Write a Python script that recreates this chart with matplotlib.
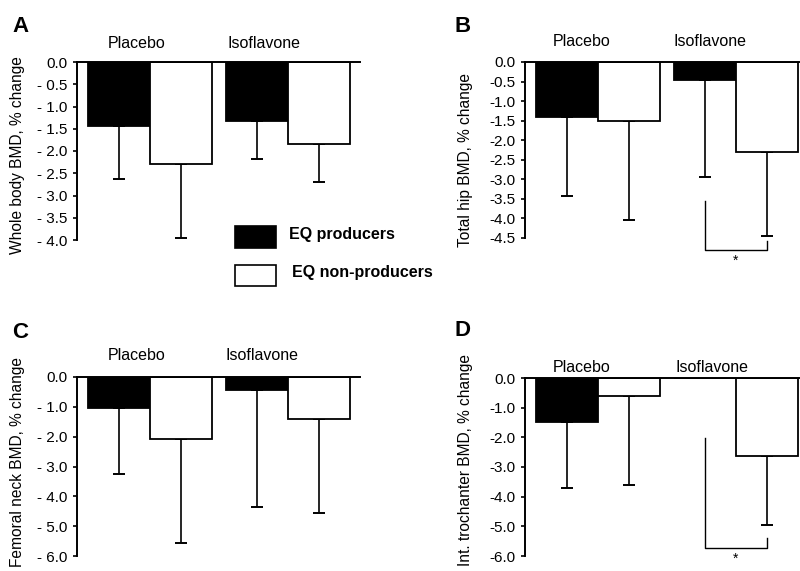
import numpy as np
import matplotlib.pyplot as plt
from matplotlib.patches import Rectangle

plt.rcParams['font.family'] = ['Liberation Sans', 'DejaVu Sans']

W, H = 800, 571

# ─── datos ────────────────────────────────────────────────────
grupos = ['Placebo', 'Isoflavone']
series = ['EQ producers', 'EQ non-producers']

# media (% cambio) y extremo inferior de la barra de error
A_prod = [-1.43, -1.32]
A_prod_err = [-2.62, -2.19]
A_nonp = [-2.30, -1.84]
A_nonp_err = [-3.96, -2.69]

B_prod = [-1.40, -0.45]
B_prod_err = [-3.43, -2.94]
B_nonp = [-1.50, -2.29]
B_nonp_err = [-4.03, -4.45]

C_prod = [-1.05, -0.43]
C_prod_err = [-3.25, -4.36]
C_nonp = [-2.08, -1.41]
C_nonp_err = [-5.55, -4.57]

D_prod = [-1.47, 0.0]
D_prod_err = [-3.72, np.nan]
D_nonp = [-0.60, -2.63]
D_nonp_err = [-3.60, -4.95]

# corchetes de significación: (y izq. arriba, y dcha. arriba, y base, y estrella)
B_sig = [-3.55, -4.58, -4.81, -4.90]
D_sig = [-2.03, -5.40, -5.74, -5.85]

paneles = [
    dict(letra='A', ylabel='Whole body BMD, % change',
         prod=A_prod, prod_err=A_prod_err, nonp=A_nonp, nonp_err=A_nonp_err,
         ticks=np.arange(0, -4.01, -0.5), fmt='- {:.1f}', ymin=-4.0,
         box=(77, 360, 62, 240), ylab=(18, 155), let=(12, 26), gy=43,
         gx=(137, 264), sig=None),
    dict(letra='B', ylabel='Total hip BMD, % change',
         prod=B_prod, prod_err=B_prod_err, nonp=B_nonp, nonp_err=B_nonp_err,
         ticks=np.arange(0, -4.51, -0.5), fmt='-{:.1f}', ymin=-4.5,
         box=(525, 799, 62, 238), ylab=(465, 160), let=(455, 27), gy=42,
         gx=(582, 710), sig=B_sig),
    dict(letra='C', ylabel='Femoral neck BMD, % change',
         prod=C_prod, prod_err=C_prod_err, nonp=C_nonp, nonp_err=C_nonp_err,
         ticks=np.arange(0, -6.01, -1.0), fmt='- {:.1f}', ymin=-6.0,
         box=(77, 360, 377, 556), ylab=(18, 462), let=(12, 332), gy=355,
         gx=(137, 262), sig=None),
    dict(letra='D', ylabel='Int. trochanter BMD, % change',
         prod=D_prod, prod_err=D_prod_err, nonp=D_nonp, nonp_err=D_nonp_err,
         ticks=np.arange(0, -6.01, -1.0), fmt='-{:.1f}', ymin=-6.0,
         box=(525, 799, 378, 556), ylab=(465, 460), let=(455, 330), gy=368,
         gx=(582, 712), sig=D_sig),
]

fig = plt.figure(figsize=(W / 100, H / 100), dpi=100)

bw = 1.0                      # ancho de barra (unidades de datos, 62 px)
pxu = 62.0
centros = np.array([1.17, 3.40])

for p in paneles:
    x0, x1, yt, yb = p['box']
    ax = fig.add_axes([x0 / W, 1 - yb / H, (x1 - x0) / W, (yb - yt) / H])
    ax.set_xlim(0, (x1 - x0) / pxu)
    ax.set_ylim(p['ymin'], 0)

    xp = centros - bw / 2
    xn = centros + bw / 2
    ax.bar(xp, p['prod'], width=bw, color='black', edgecolor='black', lw=1.3, zorder=2)
    ax.bar(xn, p['nonp'], width=bw, color='white', edgecolor='black', lw=1.3, zorder=2)

    for xs, v, e in [(xp, p['prod'], p['prod_err']), (xn, p['nonp'], p['nonp_err'])]:
        v = np.array(v)
        e = np.array(e)
        ok = ~np.isnan(e)
        ax.errorbar(xs[ok], v[ok], yerr=[v[ok] - e[ok], np.zeros(ok.sum())],
                    fmt='none', ecolor='black', elinewidth=1.2, capsize=4.5,
                    capthick=1.4, zorder=1, clip_on=False)

    if p['sig'] is not None:
        yl, yr, ybase, ystar = p['sig']
        ax.plot([xp[1], xp[1], xn[1], xn[1]], [yl, ybase, ybase, yr],
                color='black', lw=1.0, clip_on=False)
        ax.text((xp[1] + xn[1]) / 2, ystar, '*', ha='center', va='top',
                fontsize=10, clip_on=False)

    for s in ['bottom', 'right']:
        ax.spines[s].set_visible(False)
    ax.spines['left'].set_linewidth(1.4)
    ax.spines['top'].set_linewidth(1.4)
    ax.set_xticks([])
    ax.set_yticks(p['ticks'])
    ax.set_yticklabels([p['fmt'].format(abs(t)) if t != 0 else '0.0' for t in p['ticks']])
    ax.tick_params(axis='y', direction='out', length=3, width=1.2, pad=4, labelsize=11)

    fig.text(p['ylab'][0] / W, 1 - p['ylab'][1] / H, p['ylabel'], rotation=90,
             ha='center', va='center', fontsize=11.2)
    fig.text(p['let'][0] / W, 1 - p['let'][1] / H, p['letra'], ha='left', va='center',
             fontsize=16, fontweight='bold')
    for gxp, g in zip(p['gx'], grupos):
        fig.text(gxp / W, 1 - p['gy'] / H, g, ha='center', va='center', fontsize=11.5)

# leyenda
for (yt, yb), col, lab, tx in [((226, 248), 'black', series[0], 289),
                               ((265, 286), 'white', series[1], 292)]:
    fig.patches.append(Rectangle((235 / W, 1 - yb / H), 41 / W, (yb - yt) / H,
                                 transform=fig.transFigure, facecolor=col,
                                 edgecolor='black', lw=1.2))
    fig.text(tx / W, 1 - ((yt + yb) / 2 - 3) / H, lab, ha='left', va='center',
             fontsize=11.5, fontweight='bold')

plt.savefig('out.png', dpi=100)
